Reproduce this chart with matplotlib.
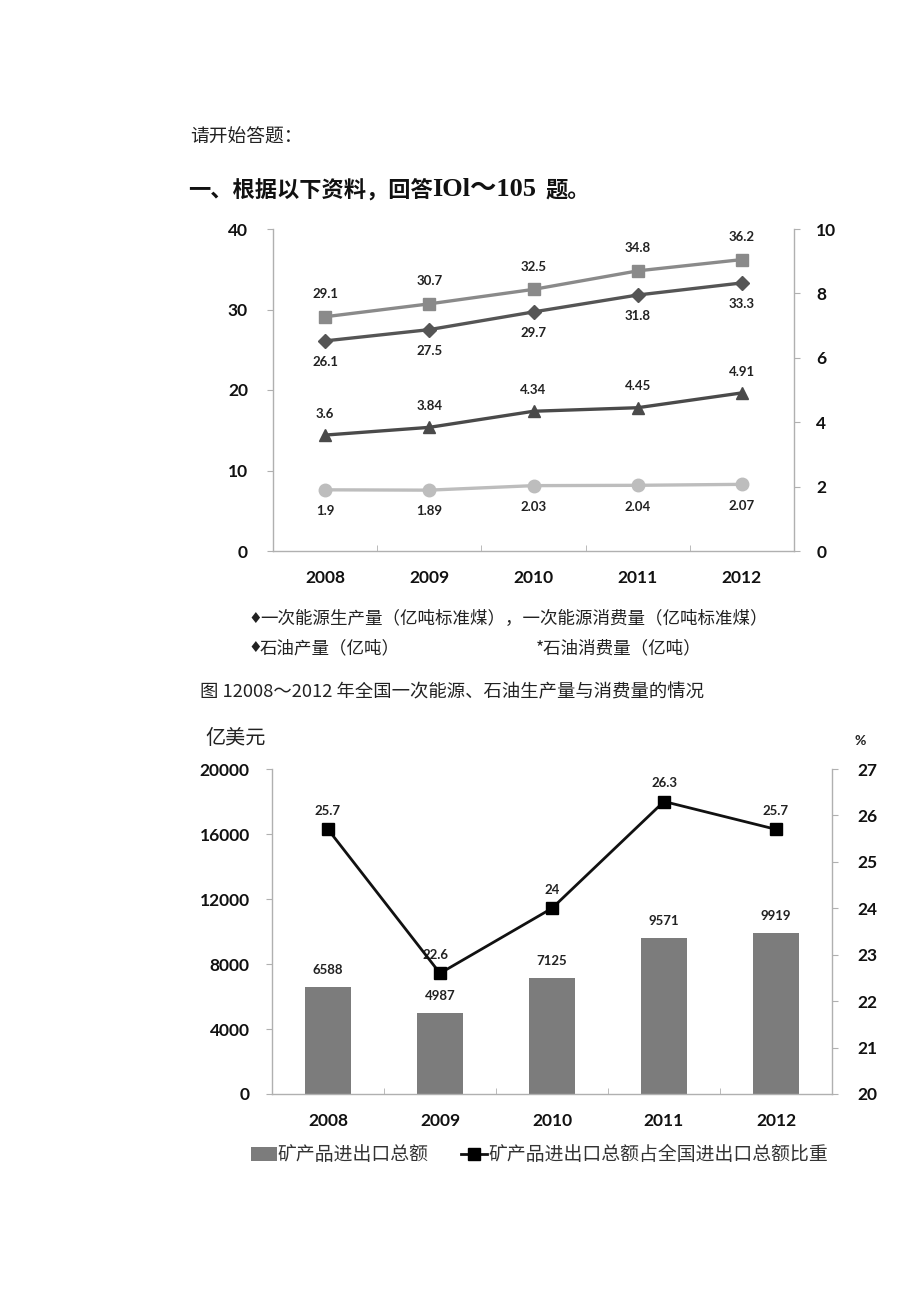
import matplotlib
matplotlib.use("Agg")
import matplotlib.pyplot as plt
from matplotlib.lines import Line2D
from matplotlib.patches import Patch

plt.rcParams['font.family'] = ['Noto Sans CJK SC', 'DejaVu Sans']

years = ["2008", "2009", "2010", "2011", "2012"]
energy_consumption = [29.1, 30.7, 32.5, 34.8, 36.2]
energy_production = [26.1, 27.5, 29.7, 31.8, 33.3]
oil_consumption = [3.6, 3.84, 4.34, 4.45, 4.91]
oil_production = [1.9, 1.89, 2.03, 2.04, 2.07]

trade_total = [6588, 4987, 7125, 9571, 9919]
trade_share = [25.7, 22.6, 24, 26.3, 25.7]

left1_ticks = [0, 10, 20, 30, 40]
right1_ticks = [0, 2, 4, 6, 8, 10]
left2_ticks = [0, 4000, 8000, 12000, 16000, 20000]
right2_ticks = [20, 21, 22, 23, 24, 25, 26, 27]

W, H = 920, 1301
fig = plt.figure(figsize=(W / 100, H / 100), dpi=100)

def rect(x0, y0, x1, y1):
    return [x0 / W, 1 - y1 / H, (x1 - x0) / W, (y1 - y0) / H]

num_font = ['Lato', 'DejaVu Sans']
spine_c = '#b0b0b0'

def style_axes(ax, axr):
    for a in (ax, axr):
        for s in a.spines.values():
            s.set_color(spine_c)
            s.set_linewidth(1.0)
        a.spines['top'].set_visible(False)
    ax.spines['right'].set_visible(False)
    axr.spines['left'].set_visible(False)
    axr.spines['bottom'].set_visible(False)
    ax.tick_params(axis='y', length=4, color=spine_c, pad=14, labelsize=12.5)
    axr.tick_params(axis='y', length=4, color=spine_c, pad=12, labelsize=12.5)
    ax.tick_params(axis='x', which='major', length=0, pad=14, labelsize=12.5)
    ax.tick_params(axis='x', which='minor', length=4, direction='in', color=spine_c)
    for lab in ax.get_yticklabels() + axr.get_yticklabels() + ax.get_xticklabels():
        lab.set_fontweight('bold')
        lab.set_family(num_font)
        lab.set_color('#111111')

# ---------------- Header text ----------------
fig.text(190 / W, 1 - 137 / H, "请开始答题：", fontsize=13.5, va='center', ha='left', color='#222222')
fig.text(188 / W, 1 - 190 / H, "一、根据以下资料，回答", fontsize=16, fontweight='bold',
         va='center', ha='left', color='#111111')
fig.text(432 / W, 1 - 190 / H, "IOl～105", fontsize=19, fontweight='bold',
         va='center', ha='left', color='#111111', family=['Liberation Serif', 'Noto Sans CJK SC'])
fig.text(546 / W, 1 - 190 / H, "题。", fontsize=16, fontweight='bold',
         va='center', ha='left', color='#111111')

# ---------------- Chart 1 ----------------
ax1 = fig.add_axes(rect(273, 229, 794, 551))
ax1r = ax1.twinx()
x = list(range(len(years)))

ax1.plot(x, energy_consumption, color='#8a8a8a', lw=2.4, marker='s', ms=9,
         mfc='#8a8a8a', mec='#8a8a8a', zorder=3)
ax1.plot(x, energy_production, color='#555555', lw=2.4, marker='D', ms=7,
         mfc='#555555', mec='#555555', zorder=3)
ax1r.plot(x, oil_consumption, color='#4a4a4a', lw=2.4, marker='^', ms=9,
          mfc='#4a4a4a', mec='#4a4a4a', zorder=3)
ax1r.plot(x, oil_production, color='#bdbdbd', lw=2.4, marker='o', ms=9,
          mfc='#bdbdbd', mec='#bdbdbd', zorder=3)

lab_kw = dict(ha='center', fontsize=9.5, fontweight='bold', color='#222222', family=num_font)
for i in x:
    ax1.annotate(f"{energy_consumption[i]}", (i, energy_consumption[i]), xytext=(0, 12),
                 textcoords='offset points', va='bottom', **lab_kw)
    ax1.annotate(f"{energy_production[i]}", (i, energy_production[i]), xytext=(0, -11),
                 textcoords='offset points', va='top', **lab_kw)
    ax1r.annotate(f"{oil_consumption[i]}", (i, oil_consumption[i]), xytext=(0, 11),
                  textcoords='offset points', va='bottom', **lab_kw)
    ax1r.annotate(f"{oil_production[i]}", (i, oil_production[i]), xytext=(0, -11),
                  textcoords='offset points', va='top', **lab_kw)

ax1.set_xlim(-0.5, len(years) - 0.5)
ax1.set_ylim(0, 40)
ax1r.set_ylim(0, 10)
ax1.set_yticks(left1_ticks)
ax1r.set_yticks(right1_ticks)
ax1.set_xticks(x)
ax1.set_xticklabels(years)
ax1.set_xticks([i + 0.5 for i in x[:-1]], minor=True)
style_axes(ax1, ax1r)

# legend text for chart 1
leg_c = '#222222'
fig.text(248 / W, 1 - 619 / H, "♦", fontsize=11, va='center', ha='left', color=leg_c,
         family=['DejaVu Sans'])
fig.text(260 / W, 1 - 619 / H, "一次能源生产量（亿吨标准煤），一次能源消费量（亿吨标准煤）",
         fontsize=12.6, va='center', ha='left', color=leg_c)
fig.text(248 / W, 1 - 648 / H, "♦", fontsize=11, va='center', ha='left', color=leg_c,
         family=['DejaVu Sans'])
fig.text(260 / W, 1 - 648 / H, "石油产量（亿吨）", fontsize=12.6, va='center', ha='left', color=leg_c)
fig.text(536 / W, 1 - 648 / H, "*石油消费量（亿吨）", fontsize=12.6, va='center', ha='left',
         color=leg_c)
fig.text(200 / W, 1 - 692 / H, "图 12008～2012 年全国一次能源、石油生产量与消费量的情况",
         fontsize=13.2, va='center', ha='left', color=leg_c)

# ---------------- Chart 2 ----------------
ax2 = fig.add_axes(rect(272, 769, 832, 1094))
ax2r = ax2.twinx()

bars = ax2.bar(x, trade_total, width=0.41, color='#7c7c7c', zorder=2)
for i in x:
    ax2.annotate(f"{trade_total[i]}", (i, trade_total[i]), xytext=(0, 8),
                 textcoords='offset points', va='bottom', **lab_kw)

ax2r.plot(x, trade_share, color='#111111', lw=2.0, marker='s', ms=9,
          mfc='#000000', mec='#000000', zorder=4)
for i in x:
    ax2r.annotate(f"{trade_share[i]:g}", (i, trade_share[i]), xytext=(-3 if i == 1 else 0, 9),
                  textcoords='offset points', va='bottom', **lab_kw)

ax2.set_xlim(-0.5, len(years) - 0.5)
ax2.set_ylim(0, 20000)
ax2r.set_ylim(20, 27)
ax2.set_yticks(left2_ticks)
ax2r.set_yticks(right2_ticks)
ax2.set_xticks(x)
ax2.set_xticklabels(years)
ax2.set_xticks([i + 0.5 for i in x[:-1]], minor=True)
style_axes(ax2, ax2r)
ax2.tick_params(axis='y', pad=12)
ax2r.tick_params(axis='y', pad=14)
ax2r.set_zorder(ax2.get_zorder() + 1)
ax2r.patch.set_visible(False)

fig.text(205 / W, 1 - 739 / H, "亿美元", fontsize=14.5, va='center', ha='left', color='#222222')
fig.text(860 / W, 1 - 741 / H, "%", fontsize=10, fontweight='bold', va='center', ha='center',
         color='#222222', family=num_font)

# legend for chart 2
handles = [Patch(facecolor='#7c7c7c', edgecolor='none'),
           Line2D([0], [0], color='#111111', lw=2, marker='s', ms=8, mfc='#000000', mec='#000000')]
labels = ["矿产品进出口总额", "矿产品进出口总额占全国进出口总额比重"]
fig.legend(handles, labels, loc='center left', bbox_to_anchor=(243 / W, 1 - 1155 / H),
           ncol=2, frameon=False, fontsize=13.6, handlelength=1.4, handletextpad=0.05,
           columnspacing=1.7, borderaxespad=0, labelcolor='#333333')

fig.savefig("out.png", dpi=100, facecolor='white')
